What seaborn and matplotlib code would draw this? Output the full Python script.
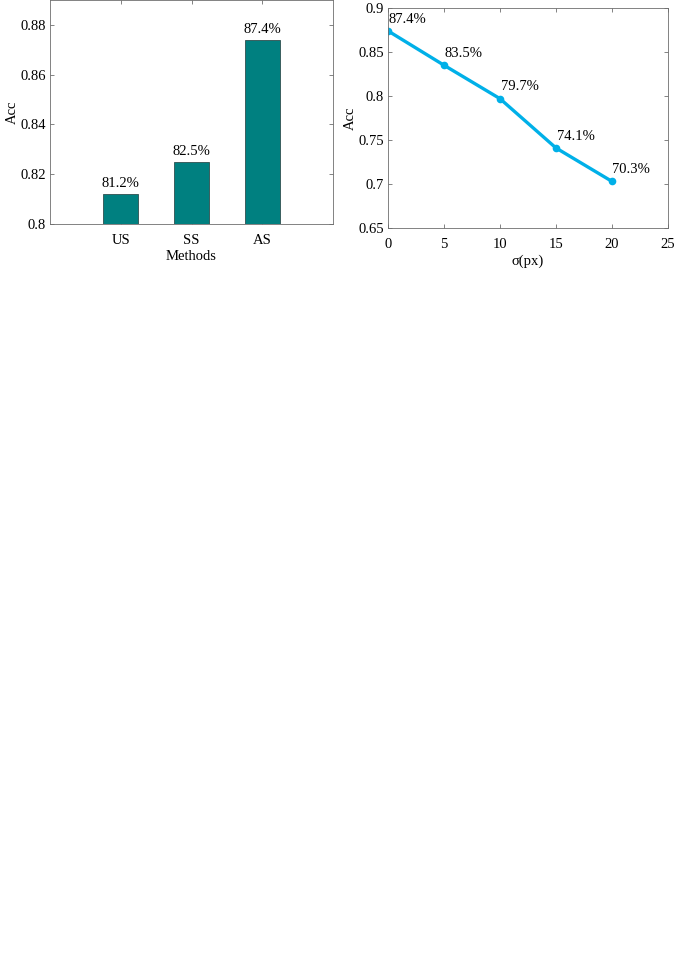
import matplotlib
matplotlib.use("Agg")
import matplotlib.pyplot as plt
import seaborn as sns
import pandas as pd

methods = ["US", "SS", "AS"]
method_acc = [0.812, 0.825, 0.874]
method_labels = ["81.2%", "82.5%", "87.4%"]

sigma = [0, 5, 10, 15, 20]
sigma_acc = [0.874, 0.835, 0.797, 0.741, 0.703]
sigma_labels = ["87.4%", "83.5%", "79.7%", "74.1%", "70.3%"]

sns.set_style("white")
plt.rcParams['font.family'] = ['Liberation Serif', 'DejaVu Serif']
plt.rcParams['text.color'] = 'black'
plt.rcParams['axes.labelcolor'] = 'black'
plt.rcParams['xtick.labelcolor'] = 'black'
plt.rcParams['ytick.labelcolor'] = 'black'
FS = 10.5
spine_c = '#6e6e6e'

fig = plt.figure(figsize=(6.76, 9.56), dpi=100)
ax1 = fig.add_axes([0.074, 0.7657, 0.4186, 0.2343])
ax2 = fig.add_axes([0.574, 0.7615, 0.414, 0.2301])

df1 = pd.DataFrame({"Methods": methods, "Acc": method_acc})
sns.barplot(data=df1, x="Methods", y="Acc", ax=ax1, color="#008080",
            width=0.5, edgecolor="#2f4f4f", linewidth=0.6, saturation=1)
ax1.set_xlim(-1, 3)
ax1.set_ylim(0.8, 0.89)
ax1.set_yticks([0.8, 0.82, 0.84, 0.86, 0.88])
ax1.set_yticklabels(["0.8", "0.82", "0.84", "0.86", "0.88"])
for i, (v, lab) in enumerate(zip(method_acc, method_labels)):
    ax1.text(i, v + 0.0015, lab, ha='center', va='bottom', fontsize=FS, color='black')
ax1.set_xlabel("Methods", fontsize=FS, labelpad=2.5)
ax1.set_ylabel("Acc", fontsize=FS, labelpad=1)

df2 = pd.DataFrame({"sigma": sigma, "Acc": sigma_acc})
sns.lineplot(data=df2, x="sigma", y="Acc", ax=ax2, color="#00b0e8",
             linewidth=2.4, marker='o', markersize=5.5, markeredgewidth=0)
ax2.set_xlim(0, 25)
ax2.set_ylim(0.65, 0.9)
ax2.set_xticks([0, 5, 10, 15, 20, 25])
ax2.set_yticks([0.65, 0.7, 0.75, 0.8, 0.85, 0.9])
ax2.set_yticklabels(["0.65", "0.7", "0.75", "0.8", "0.85", "0.9"])
for x, v, lab in zip(sigma, sigma_acc, sigma_labels):
    ax2.text(x + 0.05, v + 0.006, lab, ha='left', va='bottom', fontsize=FS, color='black')
ax2.set_xlabel("σ(px)", fontsize=FS, labelpad=2.5)
ax2.set_ylabel("Acc", fontsize=FS, labelpad=1)

for ax in (ax1, ax2):
    for s in ax.spines.values():
        s.set_visible(True)
        s.set_color(spine_c)
        s.set_linewidth(0.6)
    ax.tick_params(axis='x', pad=7)
    ax.tick_params(axis='y', pad=3)
    ax.tick_params(direction='in', length=3, width=0.6, color=spine_c,
                   top=True, right=True, bottom=True, left=True,
                   labelsize=FS)

fig.savefig("out.png", dpi=100, facecolor='white')
